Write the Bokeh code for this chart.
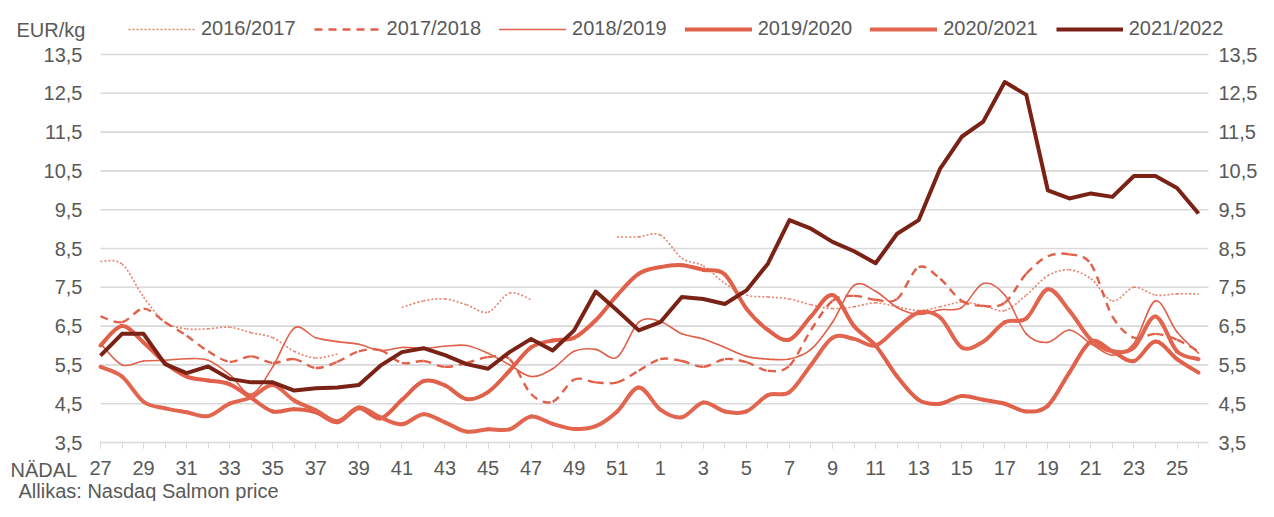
import math
from bokeh.plotting import figure
from bokeh.models import (Range1d, FixedTicker, CustomJSTickFormatter, LinearAxis,
                          Legend, LegendItem, Label, ColumnDataSource)
from bokeh.embed import file_html
from bokeh.resources import INLINE

NaN = float("nan")

# ---------------- data ----------------
weeks = [str(w) for w in range(27, 53)] + [str(w) for w in range(1, 27)]
y_ticks = [3.5, 4.5, 5.5, 6.5, 7.5, 8.5, 9.5, 10.5, 11.5, 12.5, 13.5]
seasons = ["2016/2017", "2017/2018", "2018/2019", "2019/2020", "2020/2021", "2021/2022"]
unit_label = "EUR/kg"
week_word = "NÄDAL"
source_text = "Allikas: Nasdaq Salmon price"

price_2016_2017 = [8.17, 8.10, 7.25, 6.60, 6.43, 6.43, 6.47, 6.33, 6.20, 5.85,
                   5.68, 5.78, NaN, NaN, 6.98, 7.15, 7.20, 7.05, 6.86, 7.35,
                   7.18, NaN, NaN, NaN, 8.80, 8.80, 8.85, 8.25, 8.05, 7.60,
                   7.30, 7.25, 7.20, 7.05, 6.95, 7.00, 7.10, 7.00, 6.90, 7.00,
                   7.12, 7.03, 6.90, 7.30, 7.80, 7.95, 7.72, 7.15, 7.50, 7.30,
                   7.33, 7.33]
price_2017_2018 = [6.75, 6.60, 6.95, 6.60, 6.25, 5.85, 5.58, 5.72, 5.55, 5.65,
                   5.42, 5.58, 5.85, 5.88, 5.55, 5.60, 5.45, 5.55, 5.70, 5.65,
                   4.75, 4.55, 5.12, 5.05, 5.05, 5.35, 5.65, 5.60, 5.45, 5.65,
                   5.57, 5.35, 5.48, 6.40, 7.15, 7.28, 7.18, 7.20, 8.02, 7.72,
                   7.15, 7.02, 7.10, 7.85, 8.30, 8.35, 8.10, 6.75, 6.20, 6.30,
                   6.15, 5.85]
price_2018_2019 = [6.05, 5.50, 5.60, 5.62, 5.66, 5.62, 5.25, 4.75, 5.45, 6.45,
                   6.20, 6.10, 6.03, 5.87, 5.95, 5.93, 5.98, 6.00, 5.80, 5.50,
                   5.20, 5.40, 5.85, 5.90, 5.70, 6.60, 6.62, 6.30, 6.17, 5.95,
                   5.72, 5.65, 5.65, 5.90, 6.60, 7.55, 7.40, 6.98, 6.80, 6.92,
                   6.98, 7.60, 7.30, 6.30, 6.08, 6.40, 6.05, 5.75, 6.05, 7.15,
                   6.35, 5.80]
price_2019_2020 = [6.00, 6.50, 6.08, 5.55, 5.20, 5.10, 5.00, 4.65, 4.30, 4.36,
                   4.28, 4.02, 4.38, 4.12, 4.60, 5.08, 4.97, 4.62, 4.80, 5.35,
                   5.95, 6.13, 6.20, 6.65, 7.30, 7.85, 8.02, 8.07, 7.95, 7.83,
                   6.95, 6.40, 6.15, 6.75, 7.30, 6.50, 6.00, 5.20, 4.60, 4.50,
                   4.70, 4.60, 4.50, 4.30, 4.45, 5.30, 6.10, 5.85, 5.60, 6.10,
                   5.65, 5.30]
price_2020_2021 = [5.45, 5.20, 4.55, 4.38, 4.28, 4.18, 4.50, 4.66, 4.98, 4.58,
                   4.33, 4.05, 4.40, 4.15, 3.97, 4.23, 4.02, 3.78, 3.84, 3.84,
                   4.17, 3.98, 3.85, 3.92, 4.30, 4.92, 4.35, 4.15, 4.53, 4.30,
                   4.30, 4.72, 4.80, 5.50, 6.20, 6.17, 6.00, 6.45, 6.85, 6.72,
                   5.95, 6.10, 6.60, 6.70, 7.45, 6.90, 6.15, 5.85, 5.95, 6.75,
                   5.85, 5.65]
price_2021_2022 = [5.74, 6.30, 6.30, 5.52, 5.29, 5.46, 5.14, 5.05, 5.05, 4.84,
                   4.90, 4.92, 4.98, 5.48, 5.83, 5.93, 5.75, 5.52, 5.40, 5.83,
                   6.17, 5.87, 6.39, 7.39, 6.90, 6.39, 6.60, 7.25, 7.20, 7.07,
                   7.42, 8.11, 9.23, 9.01, 8.67, 8.43, 8.12, 8.88, 9.23, 10.56,
                   11.38, 11.77, 12.79, 12.46, 10.00, 9.79, 9.92, 9.83, 10.37, 10.37,
                   10.06, 9.40]

series = [price_2016_2017, price_2017_2018, price_2018_2019,
          price_2019_2020, price_2020_2021, price_2021_2022]

# ---------------- styles ----------------
FONT = "Liberation Sans"
FS = "20px"
TXT = "#595959"
SALMON = "#E0604A"
SALMON_LIGHT = "#E8806C"
DARK = "#7A2216"
GRID = "#D9D9D9"

styles = [
    dict(line_color=SALMON_LIGHT, line_width=1.6, line_dash="2 2"),
    dict(line_color=SALMON, line_width=2.4, line_dash="8 6"),
    dict(line_color=SALMON, line_width=1.6),
    dict(line_color=SALMON, line_width=4),
    dict(line_color="#E2654F", line_width=4),
    dict(line_color=DARK, line_width=4),
]
smoothed = [True, True, True, True, True, False]

W, H = 1258, 501
PX_X, PX_Y = 21.53, 38.8          # pixels per week / per EUR
X0_PAGE, Y_TOP_PAGE = 100, 54     # where week index 0 and 13.5 EUR sit
x_start = -X0_PAGE / PX_X
y_end = y_ticks[-1] + Y_TOP_PAGE / PX_Y
x_last = len(weeks) - 1 + 0.46    # right end of the plotting area

xs = list(range(len(weeks)))

p = figure(width=W, height=H, output_backend="svg", toolbar_location=None,
           x_range=Range1d(x_start, x_start + W / PX_X),
           y_range=Range1d(y_end - H / PX_Y, y_end),
           min_border_left=0, min_border_right=0, min_border_top=0,
           min_border_bottom=0)
p.outline_line_color = None
p.background_fill_color = "white"
p.border_fill_color = "white"
p.xgrid.visible = False
p.ygrid.visible = False

# horizontal grid lines spanning the plotting area only
p.segment(x0=[0] * (len(y_ticks) - 1), x1=[x_last] * (len(y_ticks) - 1),
          y0=y_ticks[1:], y1=y_ticks[1:], line_color=GRID, line_width=1.6)

# y axes
ytick = FixedTicker(ticks=y_ticks)
yfmt = CustomJSTickFormatter(code="return tick.toFixed(1).replace('.', ',');")


def style_yaxis(ax, standoff, loc):
    ax.ticker = ytick
    ax.formatter = yfmt
    ax.fixed_location = loc
    ax.axis_line_color = None
    ax.major_tick_line_color = None
    ax.minor_tick_line_color = None
    ax.major_tick_out = 0
    ax.major_tick_in = 0
    ax.minor_tick_out = 0
    ax.minor_tick_in = 0
    ax.major_label_text_font = FONT
    ax.major_label_text_font_size = FS
    ax.major_label_text_color = TXT
    ax.major_label_standoff = standoff


style_yaxis(p.yaxis[0], 18, 0)
ra = LinearAxis()
style_yaxis(ra, 10, x_last)
p.add_layout(ra, "right")

# x axis
xa = p.xaxis[0]
xa.fixed_location = y_ticks[0]
xa.bounds = (0, x_last)
xa.ticker = FixedTicker(ticks=list(range(0, 52, 2)), minor_ticks=list(range(52)))
xa.major_label_overrides = {i: weeks[i] for i in range(0, 52, 2)}
xa.axis_line_color = GRID
xa.axis_line_width = 1.6
xa.major_tick_line_color = GRID
xa.minor_tick_line_color = GRID
xa.major_tick_out = 6
xa.major_tick_in = 0
xa.minor_tick_out = 6
xa.minor_tick_in = 0
xa.major_label_text_font = FONT
xa.major_label_text_font_size = FS
xa.major_label_text_color = TXT
xa.major_label_standoff = 12


def bezier_source(xv, yv, k=1.0 / 6.0):
    n = len(xv)
    ok = [not math.isnan(v) for v in yv]
    cols = dict(x0=[], y0=[], x1=[], y1=[], cx0=[], cy0=[], cx1=[], cy1=[])
    for i in range(n - 1):
        if not (ok[i] and ok[i + 1]):
            continue
        a = i - 1 if i - 1 >= 0 and ok[i - 1] else i
        b = i + 2 if i + 2 < n and ok[i + 2] else i + 1
        cols["x0"].append(xv[i]); cols["y0"].append(yv[i])
        cols["x1"].append(xv[i + 1]); cols["y1"].append(yv[i + 1])
        cols["cx0"].append(xv[i] + (xv[i + 1] - xv[a]) * k)
        cols["cy0"].append(yv[i] + (yv[i + 1] - yv[a]) * k)
        cols["cx1"].append(xv[i + 1] - (xv[b] - xv[i]) * k)
        cols["cy1"].append(yv[i + 1] - (yv[b] - yv[i]) * k)
    return ColumnDataSource(cols)


items = []
for name, vals, st, sm in zip(seasons, series, styles, smoothed):
    if sm:
        cap = "butt" if "line_dash" in st else "round"
        r = p.bezier(x0="x0", y0="y0", x1="x1", y1="y1", cx0="cx0", cy0="cy0",
                     cx1="cx1", cy1="cy1", source=bezier_source(xs, vals),
                     line_cap=cap, **st)
    else:
        r = p.line(x=xs, y=vals, line_join="round", **st)
    items.append(LegendItem(label=name, renderers=[r]))

legend = Legend(items=items, orientation="horizontal", location=(128, H - 40),
                glyph_width=67, glyph_height=22, label_standoff=6, spacing=18,
                padding=0, margin=0, border_line_color=None,
                background_fill_alpha=0, label_text_font=FONT,
                label_text_font_size=FS, label_text_color=TXT,
                label_height=22)
p.add_layout(legend)

p.add_layout(Label(x=16, y=H - 29, x_units="screen", y_units="screen",
                   text=unit_label, text_font=FONT, text_font_size=FS,
                   text_color=TXT, text_baseline="middle"))
p.add_layout(Label(x=10, y=H - 469, x_units="screen", y_units="screen",
                   text=week_word, text_font=FONT, text_font_size=FS,
                   text_color=TXT, text_baseline="middle"))
p.add_layout(Label(x=18, y=0, x_units="screen", y_units="screen",
                   text=source_text, text_font=FONT, text_font_size=FS,
                   text_color=TXT, text_baseline="bottom"))

open("out.html", "w").write(file_html(p, INLINE))
